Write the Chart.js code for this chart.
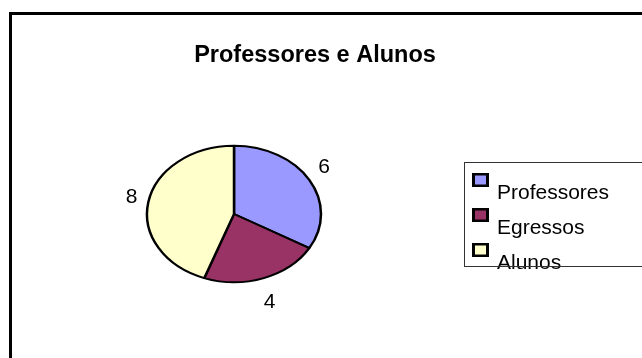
<!DOCTYPE html>
<html lang="pt">
<head>
<meta charset="utf-8">
<title>Professores e Alunos</title>
<script src="https://cdn.jsdelivr.net/npm/chart.js@4.4.1/dist/chart.umd.min.js"></script>
<style>
  html, body { margin: 0; padding: 0; background: #fff; }
  canvas { display: block; }
</style>
</head>
<body>
<canvas id="grafico" width="642" height="358"></canvas>
<script>
"use strict";

const titulo = "Professores e Alunos";
const categorias = ["Professores", "Egressos", "Alunos"];
const valores = [6, 4, 8];

const cores = ["#9999FF", "#993366", "#FFFFCC"];
const fonte = '"Liberation Sans", Arial, sans-serif';

// a pizza do original e uma elipse: raio horizontal e vertical
const raioX = 88;
const raioY = 69;

// moldura preta e titulo
const moldura = {
  id: "moldura",
  beforeDraw(chart) {
    const ctx = chart.ctx;
    ctx.save();
    ctx.fillStyle = "#fff";
    ctx.fillRect(0, 0, chart.width, chart.height);
    ctx.fillStyle = "#000";
    ctx.fillRect(9, 12, 633, 3);
    ctx.fillRect(9, 12, 3, chart.height - 12);
    ctx.font = "bold 23.5px " + fonte;
    ctx.textAlign = "center";
    ctx.textBaseline = "alphabetic";
    ctx.fillText(titulo, 315, 62);
    ctx.restore();
  },
};

// achata o circulo na vertical
const achatar = {
  id: "achatar",
  beforeDatasetsDraw(chart) {
    const arco = chart.getDatasetMeta(0).data[0];
    const ctx = chart.ctx;
    ctx.save();
    ctx.translate(arco.x, arco.y);
    ctx.scale(1, raioY / raioX);
    ctx.translate(-arco.x, -arco.y);
  },
  afterDatasetsDraw(chart) {
    chart.ctx.restore();
  },
};

// valores fora de cada fatia
const rotulos = {
  id: "rotulos",
  afterDraw(chart) {
    const ctx = chart.ctx;
    const meta = chart.getDatasetMeta(0);
    ctx.save();
    ctx.font = "21px " + fonte;
    ctx.fillStyle = "#000";
    ctx.textAlign = "center";
    ctx.textBaseline = "middle";
    meta.data.forEach((arco, i) => {
      const meio = (arco.startAngle + arco.endAngle) / 2;
      const x = arco.x + Math.cos(meio) * (raioX + 16);
      const y = arco.y + Math.sin(meio) * (raioY + 25);
      ctx.fillText(String(chart.data.datasets[0].data[i]), x, y);
    });
    ctx.restore();
  },
};

// legenda com caixa, no estilo do Excel
const legenda = {
  id: "legenda",
  afterDraw(chart) {
    const ctx = chart.ctx;
    const ds = chart.data.datasets[0];
    ctx.save();
    ctx.font = "21px " + fonte;
    ctx.textBaseline = "alphabetic";
    chart.data.labels.forEach((nome, i) => {
      const y = 173 + i * 35;
      ctx.fillStyle = "#000";
      ctx.fillRect(472, y, 17, 14);
      ctx.fillStyle = ds.backgroundColor[i];
      ctx.fillRect(475, y + 2.5, 11, 9);
      ctx.fillStyle = "#000";
      ctx.fillText(nome, 497, y + 26);
    });
    ctx.strokeStyle = "#333";
    ctx.lineWidth = 1;
    ctx.strokeRect(464.5, 162.5, 200, 104);
    ctx.restore();
  },
};

new Chart(document.getElementById("grafico"), {
  type: "pie",
  data: {
    labels: categorias,
    datasets: [
      {
        data: valores,
        backgroundColor: cores,
        borderColor: "#000",
        borderWidth: 2.5,
        clip: false,
      },
    ],
  },
  options: {
    responsive: false,
    animation: false,
    events: [],
    radius: raioX - 1,
    layout: {
      padding: { left: 146, right: 320, top: 126, bottom: 56 },
    },
    plugins: {
      legend: { display: false },
      title: { display: false },
      tooltip: { enabled: false },
    },
  },
  plugins: [moldura, achatar, rotulos, legenda],
});
</script>
</body>
</html>
